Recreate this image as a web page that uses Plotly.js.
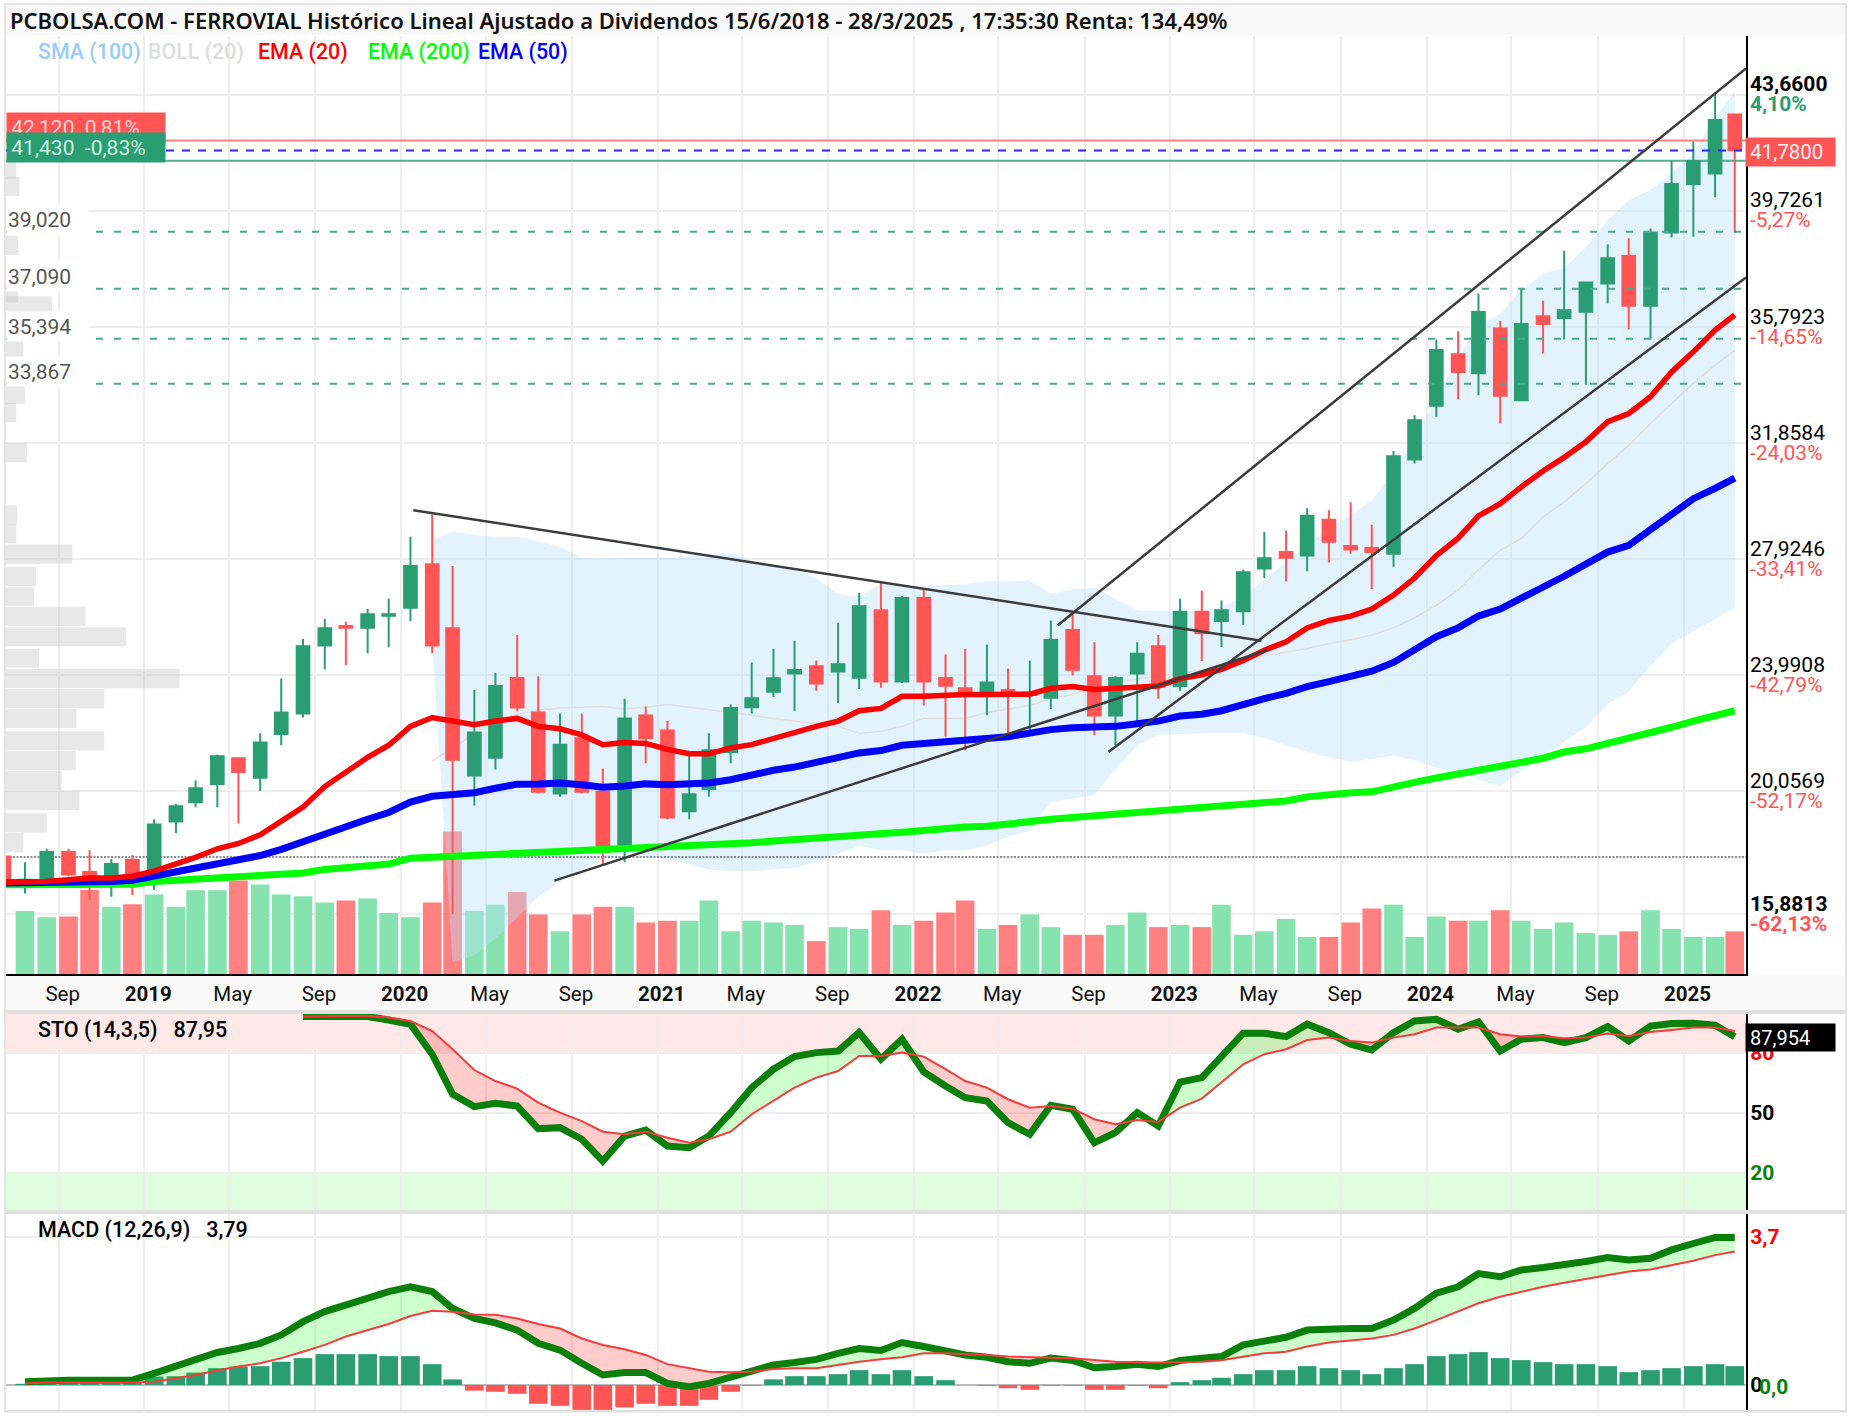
<!DOCTYPE html>
<html><head><meta charset="utf-8">
<script src="https://cdn.plot.ly/plotly-3.0.1.min.js"></script>
<style>html,body{margin:0;padding:0;background:#fff}#c{width:1850px;height:1416px}</style>
</head><body><div id="c"></div>
<script>
// ---------- monthly series, Jun 2018 .. Mar 2025 ----------
const openPx=[17.84,16.91,17.11,17.99,17.31,16.99,17.72,
16.99,19.02,19.68,20.30,21.17,20.51,21.99,22.69,24.99,25.65,25.59,26.0,
26.27,27.75,25.58,20.58,21.19,23.89,22.72,19.97,21.85,20.03,18.05,22.62,
22.11,19.37,20.13,21.38,22.90,23.42,24.04,24.29,24.11,23.90,26.19,23.77,
26.60,23.89,23.54,23.42,23.48,23.31,23.22,25.52,23.95,22.62,24.04,24.97,
23.62,26.14,25.82,26.15,27.60,28.16,28.04,29.26,28.37,28.30,28.10,31.30,
33.12,34.87,34.22,35.74,33.31,36.16,36.10,36.31,37.27,38.20,36.51,39.00,
40.64,41.00,43.0];
const closePx=[16.99,17.05,17.99,17.23,17.05,17.58,17.11,
18.92,19.54,20.15,21.24,20.70,21.70,22.72,24.97,25.58,25.59,26.05,26.05,
27.69,24.99,21.12,22.04,23.62,22.89,20.03,21.63,20.03,17.99,22.52,21.85,
19.16,19.95,21.44,22.87,23.20,23.88,24.16,23.70,24.36,26.32,23.77,26.60,
23.77,23.63,23.31,23.74,23.36,23.39,25.18,24.17,22.62,23.89,24.71,23.60,
26.14,25.41,26.19,27.48,27.95,27.97,29.39,28.51,28.25,28.16,31.41,32.63,
35.01,34.27,36.30,33.46,35.89,35.89,36.36,37.30,38.12,36.51,39.00,40.64,
41.42,42.81,41.79];
const highPx=[17.84,17.64,18.10,18.10,18.05,17.75,17.89,
19.10,19.62,20.42,21.30,21.17,22.02,23.87,25.21,25.90,25.80,26.23,26.58,
28.68,29.44,27.69,23.48,24.07,25.35,23.95,22.69,22.69,20.82,23.19,22.92,
22.43,21.26,22.02,22.99,24.42,24.88,25.15,24.48,25.76,26.78,27.12,26.66,
26.93,24.69,24.88,25.03,24.21,24.48,25.84,26.11,25.10,23.95,25.10,25.35,
26.58,26.85,26.52,27.57,28.84,28.89,29.65,29.58,29.85,29.09,31.59,32.80,
35.37,35.65,36.93,36.00,37.10,36.68,38.38,37.30,38.60,38.80,39.13,41.43,
42.08,43.72,43.0];
const lowPx=[16.58,16.58,17.05,17.17,16.35,16.47,16.53,
16.70,18.63,19.51,19.51,18.96,20.06,21.61,22.55,24.18,24.32,24.73,24.94,
25.82,24.73,15.88,19.57,20.79,22.76,19.97,19.86,19.97,17.58,17.64,21.00,
19.10,19.10,19.86,21.00,22.69,23.25,22.78,23.46,23.04,23.52,23.56,23.72,
22.96,21.90,21.44,22.63,22.02,22.08,22.84,23.98,21.96,21.61,22.31,23.19,
23.46,24.47,24.94,25.70,27.28,27.16,27.51,27.81,28.10,26.91,27.66,31.16,
32.75,33.33,33.48,32.52,33.28,34.89,35.37,33.83,36.59,35.71,35.38,38.83,
38.85,40.19,38.99];
const volume=[null,180,162,164,240,192,199,
227,192,239,239,267,256,227,222,204,210,216,174,
162,204,407,180,198,234,170,122,170,192,192,147,
152,152,210,122,152,147,140,94,134,129,182,140,
152,176,210,129,140,170,134,112,112,140,176,134,
140,134,198,112,122,157,106,106,147,187,198,106,
164,152,152,182,152,129,147,117,112,122,182,129,
106,106,122];
const volGreenMonths=['2023-06','2024-06'];
const ema20=[16.96,16.96,16.99,17.05,17.11,17.11,17.17,
17.34,17.58,17.81,18.10,18.28,18.57,19.04,19.51,20.21,20.68,21.20,21.61,
22.25,22.55,22.43,22.31,22.43,22.52,22.25,22.17,21.96,21.63,21.70,21.67,
21.47,21.32,21.32,21.52,21.63,21.85,22.04,22.25,22.43,22.78,22.86,23.27,
23.27,23.31,23.33,23.33,23.33,23.34,23.54,23.60,23.50,23.54,23.60,23.62,
23.87,24.00,24.18,24.48,24.83,25.12,25.59,25.84,25.99,26.23,26.70,27.28,
28.04,28.63,29.39,29.80,30.37,30.91,31.37,31.90,32.58,32.86,33.43,34.27,
34.95,35.69,36.20];
const ema50=[16.94,16.94,16.96,16.98,16.99,16.99,17.03,
17.17,17.34,17.46,17.61,17.75,17.87,18.08,18.34,18.61,18.90,19.10,19.33,
19.68,19.88,19.95,20.00,20.15,20.29,20.30,20.33,20.27,20.19,20.23,20.30,
20.27,20.28,20.33,20.44,20.62,20.76,20.87,21.03,21.20,21.35,21.43,21.61,
21.67,21.73,21.79,21.85,21.90,22.02,22.14,22.20,22.20,22.25,22.34,22.43,
22.60,22.66,22.78,23.01,23.19,23.37,23.60,23.77,23.93,24.12,24.42,24.83,
25.29,25.59,25.99,26.23,26.58,26.93,27.34,27.75,28.16,28.39,28.92,29.39,
29.97,30.32,30.67];
const ema200=[16.88,16.88,16.88,16.88,16.89,16.89,16.90,
16.99,17.03,17.07,17.13,17.19,17.21,17.25,17.28,17.40,17.45,17.50,17.58,
17.78,17.81,17.87,17.92,17.95,17.97,18.01,18.03,18.07,18.08,18.10,18.14,
18.16,18.19,18.22,18.26,18.30,18.36,18.40,18.45,18.49,18.55,18.60,18.66,
18.72,18.80,18.84,18.86,18.95,19.02,19.10,19.16,19.22,19.25,19.33,19.39,
19.45,19.51,19.56,19.60,19.65,19.72,19.86,19.95,20.00,20.03,20.21,20.35,
20.50,20.65,20.79,20.93,21.03,21.17,21.38,21.49,21.67,21.87,21.99,22.22,
22.43,22.60,22.78];
// Bollinger (20), Feb 2020 .. Mar 2025
const bollUpper=[28.57,28.86,28.74,28.68,28.68,28.53,28.33,27.98,27.95,27.98,27.98,
27.98,28.02,28.10,28.13,27.87,27.69,27.57,27.28,26.75,26.64,27.11,26.99,
26.99,27.05,27.07,27.16,27.16,27.20,26.75,26.90,26.97,26.58,26.19,26.17,
26.17,26.17,26.29,26.64,27.22,27.80,28.39,28.98,29.40,29.92,30.82,32.07,
33.31,34.80,35.80,36.25,37.04,37.60,37.80,38.50,39.42,40.10,40.44,41.00,
41.68,42.90,43.77];
const bollLower=[25.12,14.25,14.48,15.06,15.77,16.47,16.99,17.40,17.70,17.93,17.87,
17.75,17.58,17.40,17.34,17.34,17.40,17.46,17.64,17.93,18.20,18.05,18.05,
17.93,18.05,18.05,18.22,18.51,18.71,19.68,19.80,19.92,20.79,21.61,21.96,
21.99,22.02,22.02,22.02,21.85,21.61,21.38,21.20,21.05,21.14,21.26,21.09,
20.85,20.68,20.44,20.23,20.73,21.26,21.73,22.20,23.01,23.42,24.30,25.06,
25.47,25.88,26.29];
const bollMid=[21.09,21.50,22.02,22.43,22.66,22.80,22.87,22.90,22.92,22.84,22.90,
22.99,22.90,22.80,22.72,22.63,22.52,22.43,22.34,22.25,22.02,22.08,22.25,
22.52,22.52,22.52,22.72,22.84,22.96,23.19,23.34,23.54,23.72,23.86,23.95,
24.07,24.16,24.24,24.48,24.65,24.77,24.88,25.06,25.18,25.35,25.59,25.94,
26.35,26.87,27.57,28.22,28.62,29.35,29.86,30.48,31.16,31.78,32.52,33.20,
33.88,34.50,35.00];
// Stochastic, Aug 2019 .. Mar 2025
const stoK=[98.0,98.0,97.2,98.0,96.3,
94.2,79.2,59.2,53.0,54.7,53.3,42.0,42.5,36.7,25.8,38.3,41.3,
33.3,32.5,38.3,50.0,62.5,71.7,78.0,80.0,80.8,90.0,76.7,86.7,
70.3,63.3,57.5,55.8,45.0,39.2,53.7,51.7,35.0,40.0,50.0,43.3,
65.3,67.5,78.3,89.7,89.7,88.0,94.2,90.0,84.2,81.3,90.0,95.8,
96.7,91.7,95.3,80.8,86.7,87.5,85.0,87.5,93.0,85.8,93.3,94.5,
94.7,93.7,87.95];
const stoD=[98.0,98.3,98.3,98.3,97.5,
95.8,90.8,81.7,71.3,65.8,62.0,55.0,50.0,45.8,40.5,39.2,40.5,
37.5,35.0,36.7,40.5,49.2,55.8,62.5,67.5,70.8,78.3,78.3,80.0,
78.0,71.7,65.8,62.5,56.7,52.5,53.3,52.0,46.7,44.2,46.3,45.3,
52.5,57.0,65.0,74.2,79.2,81.7,86.3,87.5,85.8,85.0,87.5,89.2,
92.5,92.5,92.5,89.2,88.0,88.3,87.2,87.5,89.5,88.3,90.3,91.3,
92.5,92.5,90.8];
// MACD, Jul 2018 .. Mar 2025
const macdLine=[.08,.12,.12,.12,.12,.12,
.29,.46,.62,.81,.91,1.04,1.25,1.58,1.83,2.0,2.16,2.33,
2.45,2.33,1.91,1.66,1.55,1.37,1.04,.87,.54,.25,.31,.31,
.04,-.04,.04,.21,.36,.50,.56,.64,.79,.91,.86,1.06,
.96,.83,.75,.69,.58,.54,.67,.61,.43,.46,.52,.46,
.61,.67,.71,1.0,1.11,1.19,1.37,1.41,1.41,1.41,1.62,1.91,
2.29,2.45,2.78,2.70,2.87,2.93,2.99,3.08,3.18,3.12,3.16,3.37,
3.53,3.68,3.68];
const macdSignal=[.04,.06,.06,.06,.06,.06,
.08,.17,.25,.36,.46,.54,.67,.83,1.0,1.21,1.37,1.52,
1.72,1.85,1.83,1.76,1.75,1.66,1.52,1.41,1.16,1.0,.89,.75,
.52,.42,.33,.32,.33,.40,.42,.42,.50,.58,.64,.69,
.79,.79,.77,.75,.71,.69,.68,.67,.62,.58,.57,.56,
.57,.58,.62,.71,.79,.83,.96,1.06,1.12,1.16,1.25,1.41,
1.62,1.83,2.04,2.20,2.33,2.45,2.55,2.64,2.74,2.83,2.88,2.99,
3.10,3.24,3.33];
const macdHist=[.03,.04,.04,.04,.04,.05,
.21,.22,.31,.42,.46,.47,.58,.67,.77,.77,.77,.72,
.72,.52,.14,-.14,-.17,-.22,-.47,-.52,-.62,-.62,-.56,-.47,
-.52,-.52,-.37,-.17,-.02,.14,.22,.22,.27,.37,.27,.37,
.22,.12,0,-.02,-.08,-.12,-.02,-.02,-.12,-.12,-.02,-.08,
.07,.12,.18,.27,.37,.37,.47,.42,.37,.27,.42,.52,
.72,.77,.82,.67,.62,.57,.52,.52,.47,.32,.37,.42,
.47,.52,.47];
// price-level volume profile on the left edge
const profilePrice=[41.15,40.56,38.56,36.95,36.51,35.07,33.51,32.89,31.53,29.42,28.78,28.09,27.33,26.65,25.98,25.29,24.56,23.87,23.19,22.52,21.76,21.09,20.42,19.74,18.98,18.31];
const profileSize=[26,34,31,31,116,44,48,26,53,28,26,168,76,71,201,304,84,440,249,178,249,176,141,186,103,44];
// horizontal levels and labels
const fibLevels=[39.02,37.09,35.394,33.867];
const fibLabels=['39,020','37,090','35,394','33,867'];
const priceTicks=[43.66,39.7261,35.7923,31.8584,27.9246,23.9908,20.0569,15.8813];
const priceTickText=['43,6600','39,7261','35,7923','31,8584','27,9246','23,9908','20,0569','15,8813'];
const pctTickText=['4,10%','-5,27%','-14,65%','-24,03%','-33,41%','-42,79%','-52,17%','-62,13%'];
const resistance=42.12, support=41.43, lastPrice=41.78, basePrice=17.82;
const trendA={x:['2020-01-19','2023-05-11'],y:[29.58,25.15]};
const trendB={x:['2020-08-07','2023-05-19'],y:[17.02,24.83]};
const trendC={x:['2022-07-25','2025-03-31'],y:[25.68,44.56]};
const trendD={x:['2022-10-05','2025-03-31'],y:[21.38,37.47]};
const xTickDates=[],xTickText=[];
for(let y=2018;y<=2025;y++){for(const [m,n] of [['01','Jan'],['05','May'],['09','Sep']]){
  const d=y+'-'+m+'-01'; if(d<'2018-09-01'||d>'2025-01-01')continue;
  xTickDates.push(d); xTickText.push(n==='Jan'?'<b>'+y+'</b>':n);}}
const months=[];
for(let y=2018,m=6;months.length<82;){months.push(y+'-'+String(m).padStart(2,'0')+'-15');m++;if(m>12){m=1;y++;}}
const X0='2018-06-18',X1='2025-03-31';
const mBoll=months.slice(20), mSto=months.slice(14), mMacd=months.slice(1);

const GREEN='#2a9d73',RED='#ff5555',GRID='#eeeeee',F='Roboto, sans-serif';
const W=1850,H=1416;
const L=6/W,R=1746/W;
const dom=(top,bot)=>[1-bot/H,1-top/H];
const MAIN=dom(36,974),STO=dom(1014,1210),MAC=dom(1214,1410);
const PRICE=[13.853,45.66];
const volCol=months.map((m,i)=>volGreenMonths.includes(m.slice(0,7))||closePx[i]>=openPx[i]?'#86e3b0':'#ff8080');

const line=(x,y,col,w,ya,extra)=>Object.assign({type:'scatter',mode:'lines',x,y,xaxis:'x',yaxis:ya,
  line:{color:col,width:w},hoverinfo:'skip',showlegend:false},extra||{});
const hline=(v,col,w,ya,dash)=>line([X0,X1],[v,v],col,w,ya,{line:{color:col,width:w,dash:dash||'solid'}});
const barW=26.5*864e5;
const data=[];
data.push({type:'bar',x:months,y:volume,xaxis:'x',yaxis:'y',marker:{color:volCol,line:{width:0}},width:barW,hoverinfo:'skip',showlegend:false});
data.push({type:'bar',orientation:'h',x:profileSize,y:profilePrice,xaxis:'x4',yaxis:'y6',width:.65,marker:{color:'rgba(190,190,190,.36)',line:{width:0}},hoverinfo:'skip',showlegend:false});
data.push(line(mBoll,bollLower,'rgba(0,0,0,0)',0,'y2'));
data.push(line(mBoll,bollUpper,'rgba(0,0,0,0)',0,'y2',{fill:'tonexty',fillcolor:'rgba(187,226,250,.42)'}));
data.push(line(mBoll,bollMid,'#dedede',1.5,'y2'));
data.push(hline(basePrice,'#666666',1.6,'y2','2px,1.5px'));
data.push(hline(resistance,'#ff8080',2,'y2'));
data.push(hline(support,'#55ad8c',2,'y2'));
data.push({type:'candlestick',x:months,open:openPx,high:highPx,low:lowPx,close:closePx,xaxis:'x',yaxis:'y3',
  increasing:{line:{color:GREEN,width:2},fillcolor:GREEN},decreasing:{line:{color:RED,width:2},fillcolor:RED},
  whiskerwidth:0,hoverinfo:'skip',showlegend:false});
data.push(hline(lastPrice,'#2a2aff',2,'y3','8px,8px'));
fibLevels.forEach(v=>data.push(hline(v,'#4aa98a',2,'y3','7px,11px')));
data.push(line(months,ema200,'#00ff00',7,'y3'));
data.push(line(months,ema50,'#0000ff',7,'y3'));
data.push(line(months,ema20,'#ff0000',5.5,'y3'));
[trendA,trendB,trendC,trendD].forEach(t=>data.push(line(t.x,t.y,'#3c3c3c',2.5,'y3')));
function osc(xs,a,b,xa,ya,wK){
  const hi=a.map((v,i)=>Math.max(v,b[i])),lo=a.map((v,i)=>Math.min(v,b[i]));
  const t=(y,col,w,ex)=>Object.assign({type:'scatter',mode:'lines',x:xs,y,xaxis:xa,yaxis:ya,line:{color:col,width:w},hoverinfo:'skip',showlegend:false},ex||{});
  data.push(t(b,'rgba(0,0,0,0)',0));
  data.push(t(hi,'rgba(0,0,0,0)',0,{fill:'tonexty',fillcolor:'rgba(0,255,0,.2)'}));
  data.push(t(b,'rgba(0,0,0,0)',0));
  data.push(t(lo,'rgba(0,0,0,0)',0,{fill:'tonexty',fillcolor:'rgba(255,0,0,.2)'}));
  data.push(t(a,'#0a800a',wK));
  data.push(t(b,'#f53b3b',2));
}
osc(mSto,stoK,stoD,'x2','y4',7);
data.push({type:'bar',x:mMacd,y:macdHist,xaxis:'x3',yaxis:'y5',width:barW,marker:{color:macdHist.map(v=>v>=0?GREEN:RED),line:{width:0}},hoverinfo:'skip',showlegend:false});
osc(mMacd,macdLine,macdSignal,'x3','y5',7);

const px=x=>x/W,py=y=>1-y/H;
const ann=(x,y,text,o)=>Object.assign({xref:'paper',yref:'paper',x:px(x),y:py(y),text,showarrow:false,xanchor:'left',yanchor:'middle'},o||{},
  {font:Object.assign({family:F,size:21,color:'#000'},(o&&o.font)||{})});
const annotations=[];
annotations.push(ann(8,20,'PCBOLSA.COM - FERROVIAL Histórico Lineal Ajustado a Dividendos 15/6/2018 - 28/3/2025 , 17:35:30 Renta: 134,49%',{font:{family:'"Noto Sans", sans-serif',size:22,weight:600,color:'#111'}}));
[['SMA (100)','#99ccf8',36],['BOLL (20)','#dddddd',146],['EMA (20)','#ff0000',256],['EMA (200)','#00ff00',366],['EMA (50)','#0000ff',476]]
 .forEach(([t,c,x])=>annotations.push(ann(x,52,t,{font:{color:c,weight:500,size:21.4}})));
[220,276,326,372].forEach((y,i)=>annotations.push(ann(6,y,fibLabels[i],{bgcolor:'#ffffff',width:79,height:27,align:'left',font:{color:'#555555'}})));
annotations.push(ann(6,128,'&#8201;42,120&nbsp;&nbsp;0,81%',{bgcolor:RED,width:157.5,height:30,align:'left',borderpad:0,font:{color:'#ffd0d0',size:21}}));
annotations.push(ann(6,147.2,'&#8201;41,430&nbsp;&nbsp;-0,83%',{bgcolor:GREEN,width:157.5,height:29,align:'left',borderpad:0,font:{color:'#cdeee0',size:21}}));
annotations.push(ann(1745,151.7,'&#8201;41,7800',{bgcolor:RED,width:89,height:28,align:'left',borderpad:0,font:{color:'#fff0f0',size:20.5}}));
annotations.push(ann(36,1030,'STO (14,3,5)&nbsp;&nbsp;&nbsp;87,95',{font:{weight:500,size:21.5}}));
annotations.push(ann(36,1230,'MACD (12,26,9)&nbsp;&nbsp;&nbsp;3,79',{font:{weight:500,size:21.5}}));
annotations.push(ann(1745,1037,'&#8201;87,954',{bgcolor:'#000',width:89,height:27,align:'left',borderpad:0,font:{color:'#fff',size:20}}));
annotations.push(ann(1757,1387,'<b>0,0</b>',{font:{color:'#0a800a'}}));
priceTicks.forEach((v,i)=>{
  const bold=i===0||i===priceTicks.length-1, c=i===0?GREEN:RED;
  const base={xref:'paper',yref:'y3',x:px(1748),y:v,showarrow:false,xanchor:'left',yanchor:'middle',height:20};
  annotations.push(Object.assign({},base,{yshift:10.5,text:priceTickText[i],font:{family:F,size:21,color:'#000',weight:bold?700:400}}));
  annotations.push(Object.assign({},base,{yshift:-9.5,text:pctTickText[i],font:{family:F,size:21,color:c,weight:bold?700:400}}));
});

const band=(yref,y0,y1,col)=>({type:'rect',layer:'below',xref:'paper',yref,x0:L,x1:R,y0,y1,fillcolor:col,line:{width:0}});
const rect=(x0,y0,x1,y1,col)=>({type:'rect',layer:'below',xref:'paper',yref:'paper',x0:px(x0),x1:px(x1),y0:py(y0),y1:py(y1),fillcolor:col,line:{width:0}});
const shapes=[
 rect(5,5,1845,35,'#f9f9f9'),
 rect(5,975,1845,1010,'#f9f9f9'),
 rect(4,1010,1847,1014,'#e0e0e0'),
 rect(4,1210,1847,1214,'#e0e0e0'),
 rect(4,1410,1847,1412.5,'#e0e0e0'),
 rect(4,3,1847,5,'#e4e4e4'),
 rect(4,3,6,1412,'#e4e4e4'),
 rect(1845,3,1847,1412,'#e4e4e4'),
 band('y4',80,99.3,'#fee8e8'),
 band('y4',1.35,20,'#e0fde0'),
];
const xBase={type:'date',range:[X0,X1],domain:[L,R],tickmode:'array',tickvals:xTickDates,ticktext:xTickText,
  showgrid:true,gridcolor:GRID,gridwidth:2,zeroline:false,showline:false,ticks:'',fixedrange:true,rangeslider:{visible:false}};
const priceAxis={domain:MAIN,range:PRICE,side:'right',anchor:'x',overlaying:'y',showgrid:false,zeroline:false,showticklabels:false,ticks:'',fixedrange:true};
const layout={width:W,height:H,margin:{l:0,r:0,t:0,b:0,pad:0},paper_bgcolor:'#ffffff',plot_bgcolor:'rgba(0,0,0,0)',
 showlegend:false,boxgap:.08,font:{family:F,size:21,color:'#000'},hovermode:false,barmode:'overlay',
 xaxis:Object.assign({},xBase,{anchor:'y',side:'bottom',showticklabels:true,showline:true,linecolor:'#000',linewidth:2,ticklabelshift:4,tickfont:{family:F,size:20.5,color:'#111'}}),
 xaxis2:Object.assign({},xBase,{anchor:'y4',showticklabels:false}),
 xaxis3:Object.assign({},xBase,{anchor:'y5',showticklabels:false}),
 xaxis4:{domain:[L,R],range:[0,4407],visible:false,anchor:'y6',fixedrange:true},
 yaxis:{domain:MAIN,range:[0,2680],visible:false,fixedrange:true,anchor:'x'},
 yaxis2:Object.assign({},priceAxis),
 yaxis3:Object.assign({},priceAxis,{showgrid:true,gridcolor:GRID,gridwidth:2,showline:true,linecolor:'#000',linewidth:2,
   tickmode:'array',tickvals:priceTicks}),
 yaxis4:{domain:STO,range:[1.35,99.3],side:'right',anchor:'x2',tickmode:'array',tickvals:[20,50,80],
   ticktext:['<span style="color:#0a800a"><b>20</b></span>','<b>50</b>','<span style="color:#ff0000"><b>80</b></span>'],ticklabelstandoff:-2,
   showgrid:true,gridcolor:GRID,gridwidth:2,zeroline:false,showline:true,linecolor:'#000',linewidth:2,tickfont:{family:F,size:21,color:'#000'},fixedrange:true},
 yaxis5:{domain:MAC,range:[-.624,4.266],side:'right',anchor:'x3',tickmode:'array',tickvals:[0,3.7],
   ticktext:['<b>0</b>','<span style="color:#ff0000"><b>3,7</b></span>'],ticklabelstandoff:-2,
   showgrid:true,gridcolor:GRID,gridwidth:2,zeroline:true,zerolinecolor:'#bbbbbb',zerolinewidth:2,showline:true,linecolor:'#000',linewidth:2,tickfont:{family:F,size:21,color:'#000'},fixedrange:true},
 yaxis6:{domain:MAIN,range:PRICE,visible:false,anchor:'x4',fixedrange:true},
 shapes,annotations};
Plotly.newPlot('c',data,layout,{displayModeBar:false,staticPlot:true});
</script></body></html>
